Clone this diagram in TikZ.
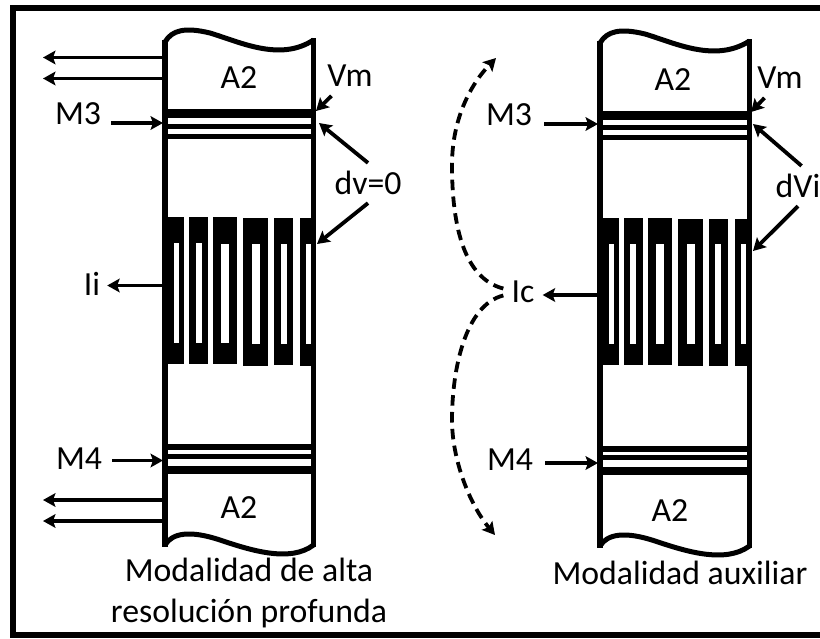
\documentclass[tikz,border=0pt]{standalone}
\usepackage{fontspec}
\setmainfont{Carlito}
\usetikzlibrary{arrows.meta}

\begin{document}
\begin{tikzpicture}[
  x=0.025cm, y=-0.025cm,
  frameline/.style={line width=0.15cm, line join=miter},
  wall/.style={line width=0.135cm},
  wave/.style={line width=0.125cm},
  metal/.style={fill=black, draw=none},
  slot/.style={fill=white, draw=none},
  arr/.style={-{Stealth[length=0.31cm, width=0.34cm, inset=0.06cm]}, line width=0.095cm},
  swing/.style={arr, dash pattern=on 7.5pt off 4.5pt},
  lbl/.style={font=\fontsize{24}{27}\selectfont, text=black, inner sep=0.2cm},
  capt/.style={font=\fontsize{24}{27}\selectfont, text=black, align=center, inner sep=0pt},
]
\useasboundingbox (0,0) rectangle (820,638);

%% ---- Outer frame ----
\draw[frameline] (820,8) -- (13,8) -- (13,635) -- (820,635);

%% ---- Left column ----
\draw[wall] (165,40) -- (165,547);
\draw[wall] (313.5,38) -- (313.5,547);
\draw[wave] (165,42) .. controls (172,30) and (185,27) .. (210,33)
  .. controls (240,42) and (280,62) .. (313.5,40);
\draw[wave] (165,545) .. controls (172,533) and (190,530) .. (220,540)
  .. controls (250,550) and (290,563) .. (313.5,545);
\foreach \ya/\yb in {109/118, 124/129, 134/139, 444/450, 454/459, 466/474}
  \fill[metal] (165,\ya) rectangle (313.5,\yb);
\foreach \xa/\xb/\ya/\yb in {165/184.3/217/364, 189.3/207.7/217/364, 212.7/237.3/217/364,
    243.3/268/218/365.7, 274.3/293.3/218/365, 300/316/218/365.7}
  \fill[metal] (\xa,\ya) rectangle (\xb,\yb);
\foreach \xa/\xb/\ya/\yb in {174/179.3/242.7/343.3, 195.7/201.7/242.7/343.3, 221/229/243.5/343.3,
    251.7/260/244/344, 280.7/286.7/244/344, 306/310.7/244/344}
  \fill[slot] (\xa,\ya) rectangle (\xb,\yb);

%% ---- Right column ----
\draw[wall] (600,41) -- (600,548);
\draw[wall] (749.5,39) -- (749.5,548);
\draw[wave] (600,43) .. controls (607,31) and (620,28) .. (645,34)
  .. controls (675,43) and (715,63) .. (749.5,41);
\draw[wave] (600,546) .. controls (607,534) and (625,531) .. (655,541)
  .. controls (685,551) and (725,564) .. (749.5,546);
\foreach \ya/\yb in {111/120, 125/130, 135/140, 445.7/451.7, 455/460, 466.7/475}
  \fill[metal] (600,\ya) rectangle (749.5,\yb);
\foreach \xa/\xb/\ya/\yb in {597.5/619/218.3/365, 624/642.7/218.3/365, 647.7/672.3/218.3/365,
    678.3/703/219.3/366.3, 709.3/727.7/219.3/366, 734.7/752/219.3/366.3}
  \fill[metal] (\xa,\ya) rectangle (\xb,\yb);
\foreach \xa/\xb/\ya/\yb in {609/613.7/244.3/344.3, 630.3/636/244.3/344.3, 656/664/244.3/344.3,
    687/695/244.3/344.3, 715.3/721/244.3/344.3, 741/745.7/244.3/344.3}
  \fill[slot] (\xa,\ya) rectangle (\xb,\yb);

%% ---- Labels ----
\node[lbl] (aTopL) at (239,78) {A2};
\node[lbl] (aBotL) at (239,508) {A2};
\node[lbl] (aTopR) at (673,80) {A2};
\node[lbl] (aBotR) at (670,511) {A2};
\node[lbl, inner xsep=0.25cm] (mThreeL) at (78,114) {M3};
\node[lbl, inner xsep=0.25cm] (mFourL) at (79,459) {M4};
\node[lbl, inner xsep=0.3cm] (mThreeR) at (509,115) {M3};
\node[lbl, inner xsep=0.3cm] (mFourR) at (510,460) {M4};
\node[lbl, inner xsep=0.17cm] (curL) at (92,284) {Ii};
\node[lbl, inner xsep=0.2cm] (curR) at (523,292) {Ic};
\node[lbl, inner sep=0.22cm] (vmL) at (350,76) {Vm};
\node[lbl, inner sep=0.22cm] (vmR) at (780,78) {Vm};
\node[lbl] (dvL) at (368,183) {dv=0};
\node[lbl] (dvR) at (798,186) {dVi};
\node[capt] (modeL) at (249,593) {Modalidad de alta\\[1.5pt]resolución profunda};
\node[capt] (modeR) at (680,573) {Modalidad auxiliar};

%% ---- Connector ends ----
\coordinate (outLa) at (43,57.5);
\coordinate (outLb) at (43,78.5);
\coordinate (outLc) at (43,500);
\coordinate (outLd) at (43,521);
\coordinate (wallLa) at (165,57.5);
\coordinate (wallLb) at (165,78.5);
\coordinate (wallLc) at (165,500);
\coordinate (wallLd) at (165,521);
\coordinate (hitThreeL) at (163,123);
\coordinate (hitFourL) at (163,460.5);
\coordinate (hitThreeR) at (598,124);
\coordinate (hitFourR) at (598,463);
\coordinate (wallCurL) at (163,285.5);
\coordinate (wallCurR) at (598,295);
\coordinate (hitVmL) at (316,111);
\coordinate (hitVmR) at (751,112);
\coordinate (hitDvLa) at (319,123);
\coordinate (hitDvLb) at (317,244);
\coordinate (hitDvRa) at (753,124);
\coordinate (hitDvRb) at (753,251);
\coordinate (tipUp) at (496,58);
\coordinate (tipDown) at (495,535);

%% ---- Arrows, left column ----
\draw[arr] (wallLa) -- (outLa);
\draw[arr] (wallLb) -- (outLb);
\draw[arr] (wallLc) -- (outLc);
\draw[arr] (wallLd) -- (outLd);
\draw[arr] (mThreeL.east |- hitThreeL) -- (hitThreeL);
\draw[arr] (mFourL.east |- hitFourL) -- (hitFourL);
\draw[arr] (wallCurL) -- (curL.east |- wallCurL);
\draw[arr] (vmL.-133) -- (hitVmL);
\draw[arr] (dvL.north) -- (hitDvLa);
\draw[arr] (dvL.south) -- (hitDvLb);

%% ---- Arrows, right column ----
\draw[arr] (mThreeR.east |- hitThreeR) -- (hitThreeR);
\draw[arr] (mFourR.east |- hitFourR) -- (hitFourR);
\draw[arr] (wallCurR) -- (curR.east |- wallCurR);
\draw[arr] (vmR.-128) -- (hitVmR);
\draw[arr] (dvR.80) -- (hitDvRa);
\draw[arr] (dvR.south) -- (hitDvRb);

%% ---- Dashed swings from Ic ----
\draw[swing] (curR.170) .. controls (470,280) and (452,240) .. (452,165)
  .. controls (452,120) and (470,85) .. (tipUp);
\draw[swing] (curR.190) .. controls (465,305) and (452,370) .. (452,420)
  .. controls (452,460) and (470,505) .. (tipDown);

\end{tikzpicture}
\end{document}
